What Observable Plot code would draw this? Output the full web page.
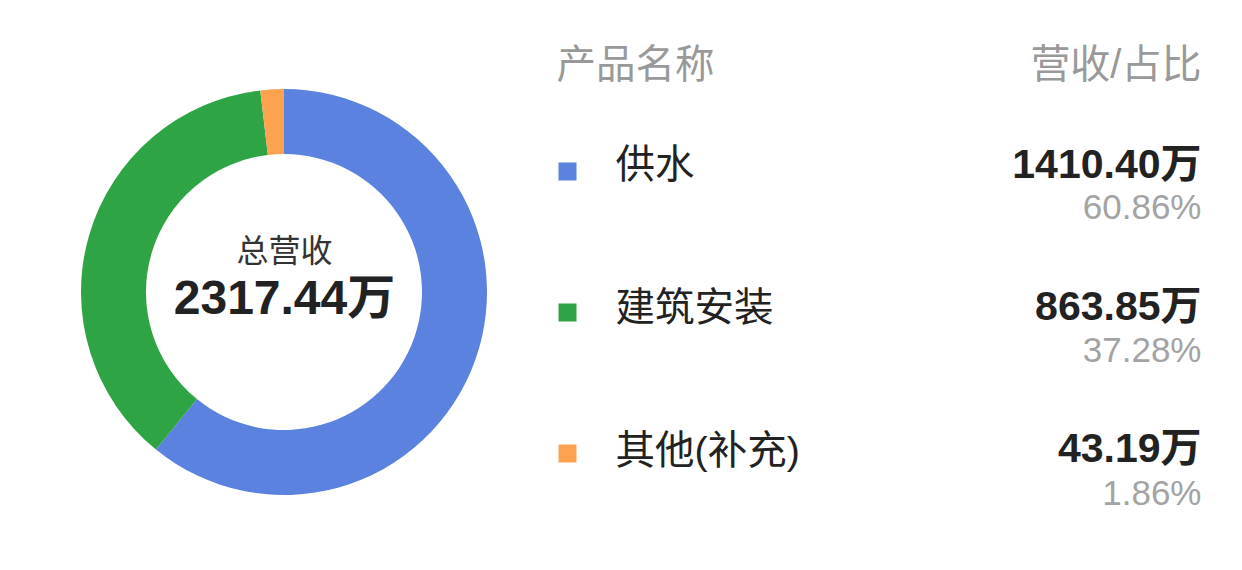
<!DOCTYPE html>
<html>
<head>
<meta charset="utf-8">
<script src="https://cdn.jsdelivr.net/npm/d3@7"></script>
<script src="https://cdn.jsdelivr.net/npm/@observablehq/plot@0.6"></script>
<style>
  html, body { margin: 0; padding: 0; background: #fff; }
  #chart svg { display: block; }
</style>
</head>
<body>
<div id="chart"></div>
<script>
// ---- data ----
const categories = ["供水", "建筑安装", "其他(补充)"];
const revenue = [1410.40, 863.85, 43.19];      // 万
const shares = [60.86, 37.28, 1.86];           // %
const colors = ["#5A82DE", "#2FA445", "#FDA34F"];
const totalRevenue = 2317.44;                  // 万
const centerTitle = "总营收";
const headers = ["产品名称", "营收/占比"];
const unit = "万";

// ---- layout ----
const W = 1242, H = 570;
const cx = 284, cy = 292, rOuter = 203, rInner = 138;
const legendLeft = 556, labelX = 615, rightX = 1201;
const font = "'Liberation Sans', Helvetica, Arial, 'Noto Sans CJK SC', sans-serif";

const rows = categories.map((name, i) => ({
  name, revenue: revenue[i], share: shares[i], i
}));

// vertical layout for legend rows
const rowSquareY = i => 171 + i * 141;
const rowLabelY = i => 165 + i * 143;
const rowValueY = i => 164 + i * 142;
const rowShareY = i => 207 + i * 143;

// donut drawn via a render function using Plot's scales
function donut(index, scales, values, dimensions, context) {
  const g = d3.create("svg:g");
  const pie = d3.pie().sort(null).value(d => d.revenue)(rows);
  const arc = d3.arc().innerRadius(rInner).outerRadius(rOuter);
  g.attr("transform", `translate(${scales.x(cx)},${scales.y(cy)})`);
  g.selectAll("path")
    .data(pie)
    .join("path")
    .attr("d", arc)
    .attr("fill", d => scales.color ? scales.color(d.data.name) : colors[d.data.i]);
  return g.node();
}

const chart = Plot.plot({
  width: W,
  height: H,
  margin: 0,
  x: {domain: [0, W], range: [0, W], axis: null},
  y: {domain: [0, H], range: [0, H], axis: null},
  color: {domain: categories, range: colors},
  style: {fontFamily: font, background: "#fff"},
  marks: [
    donut,
    // center texts
    Plot.text([centerTitle], {x: cx, y: 251, text: d => d, fontSize: 32, fill: "#333", textAnchor: "middle"}),
    Plot.text([totalRevenue], {x: cx, y: 298, text: d => d.toFixed(2) + unit, fontSize: 48, fontWeight: "bold", fill: "#222", textAnchor: "middle"}),
    // legend headers
    Plot.text([headers[0]], {x: legendLeft, y: 65, text: d => d, fontSize: 39.5, fill: "#999", textAnchor: "start"}),
    Plot.text([headers[1]], {x: rightX, y: 65, text: d => d, fontSize: 40, fill: "#999", textAnchor: "end"}),
    // legend squares
    Plot.dot(rows, {x: 567, y: d => rowSquareY(d.i), fill: "name", symbol: "square", r: 10.16, stroke: null}),
    // legend labels
    Plot.text(rows, {x: labelX, y: d => rowLabelY(d.i), text: "name", fontSize: 39.5, fill: "#222", textAnchor: "start"}),
    // values
    Plot.text(rows, {x: rightX, y: d => rowValueY(d.i), text: d => d.revenue.toFixed(2) + unit, fontSize: 41, fontWeight: "bold", fill: "#222", textAnchor: "end"}),
    // shares
    Plot.text(rows, {x: rightX, y: d => rowShareY(d.i), text: d => d.share.toFixed(2) + "%", fontSize: 35, fill: "#a3a3a3", textAnchor: "end"})
  ]
});

document.getElementById("chart").appendChild(chart);
</script>
</body>
</html>
